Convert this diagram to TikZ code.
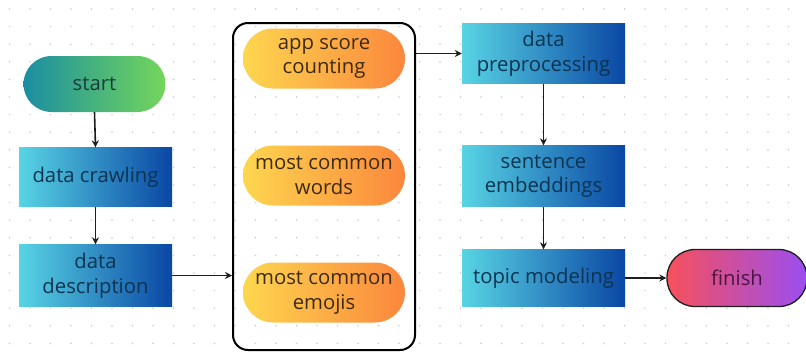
\documentclass[tikz,border=0pt]{standalone}
\usepackage{fontspec}
\setmainfont{Open Sans}
\usetikzlibrary{arrows.meta,calc}
\definecolor{dotc}{HTML}{CDCDCD}
\definecolor{bxL}{HTML}{58D4E4}
\definecolor{bxR}{HTML}{0A47A4}
\definecolor{stL}{HTML}{1A8EA2}
\definecolor{stR}{HTML}{74D65A}
\definecolor{orL}{HTML}{FDD64F}
\definecolor{orR}{HTML}{FB873C}
\definecolor{fiL}{HTML}{F7505B}
\definecolor{fiR}{HTML}{9A4EF2}
\definecolor{txB}{HTML}{0C3350}
\definecolor{txO}{HTML}{3D2A12}
\definecolor{txS}{HTML}{163C3C}
\definecolor{txF}{HTML}{4A1640}
\definecolor{lnc}{HTML}{1E1E1E}
\tikzset{
  lbl/.style={font=\fontsize{20.3}{24.5}\selectfont, align=center, inner sep=0pt},
  bluebox/.style={lbl, rectangle, minimum width=153pt, minimum height=59pt, left color=bxL, right color=bxR, text=txB},
  startpill/.style={lbl, rectangle, rounded corners=28pt, minimum width=142pt, minimum height=56pt, left color=stL, right color=stR, text=txS},
  orpill/.style={lbl, rectangle, rounded corners=30pt, minimum width=162pt, minimum height=60pt, left color=orL, right color=orR, text=txO},
  finpill/.style={lbl, rectangle, rounded corners=28pt, minimum width=140pt, minimum height=57pt, left color=fiL, right color=fiR, text=txF, draw=lnc, line width=1.3pt},
  container/.style={rectangle, rounded corners=15pt, draw=black, line width=2pt, minimum width=182pt, minimum height=327pt},
  conn/.style={draw=lnc, line width=1.6pt, -{Stealth[length=7pt,width=7pt]}}
}
\begin{document}
\begin{tikzpicture}[x=1pt,y=-1pt]
\useasboundingbox (0,0) rectangle (806,354);
\fill[white] (0,0) rectangle (806,354);
\foreach \i in {0,...,38}{
  \foreach \j in {0,...,19}{
    \fill[dotc] ({9.5+20.5*\i},{9+17.6*\j}) circle (0.85pt);
  }
}
% left column
\node[startpill] (start) at (94.5,84) {start};
\node[bluebox] (crawl) at (95.5,177) {data crawling};
\node[bluebox, minimum height=62pt] (desc) at (95.5,275.5) {data\\description};
% container
\node[container] (cont) at (324,186.5) {};
\node[orpill] (app) at (324,58.5) {app score\\counting};
\node[orpill] (words) at (324,175.5) {most common\\words};
\node[orpill] (emojis) at (324,292.5) {most common\\emojis};
% right column
\node[bluebox, minimum width=163pt, minimum height=60pt] (prep) at (543.5,53.5) {data\\preprocessing};
\node[bluebox, minimum width=163pt, minimum height=61pt] (sent) at (543.5,176) {sentence\\embeddings};
\node[bluebox, minimum width=163pt, minimum height=57pt] (topic) at (543.5,278) {topic modeling};
\node[finpill] (finish) at (737,278) {finish};
% connectors
\draw[conn] (start.south) -- (crawl.north);
\draw[conn] (crawl.south) -- (desc.north);
\draw[conn] (desc.east) -- (desc.east -| cont.west);
\draw[conn] (prep.west -| cont.east) -- (prep.west);
\draw[conn] (prep.south) -- (sent.north);
\draw[conn] (sent.south) -- (topic.north);
\draw[conn] (topic.east) -- (finish.west);
\end{tikzpicture}
\end{document}
